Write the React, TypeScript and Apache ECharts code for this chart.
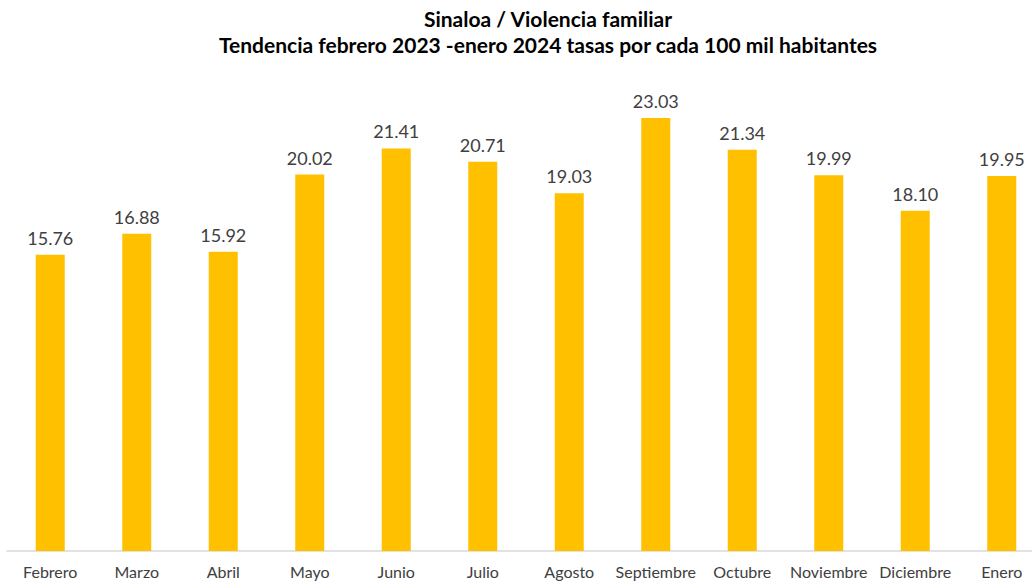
import React, { useEffect, useRef } from "react";
import * as echarts from "echarts";

const months = ["Febrero", "Marzo", "Abril", "Mayo", "Junio", "Julio", "Agosto", "Septiembre", "Octubre", "Noviembre", "Diciembre", "Enero"];
const rates = [15.76, 16.88, 15.92, 20.02, 21.41, 20.71, 19.03, 23.03, 21.34, 19.99, 18.1, 19.95];
const titleLines = ["Sinaloa / Violencia familiar", "Tendencia febrero 2023 -enero 2024 tasas por cada 100 mil habitantes"];

export default function App() {
  const ref = useRef<HTMLDivElement>(null);
  useEffect(() => {
    if (!ref.current) return;
    const chart = echarts.init(ref.current, null, { renderer: "svg" });
    const font = "Lato, 'Open Sans', sans-serif";
    chart.setOption({
      animation: false,
      backgroundColor: "#ffffff",
      title: {
        text: titleLines.join("\n"),
        left: 543,
        top: 0,
        textAlign: "center",
        textStyle: { fontFamily: font, fontSize: 21, fontWeight: "bold", color: "#000000", lineHeight: 26 },
      },
      grid: { left: 7, top: 81, width: 1038, height: 470, containLabel: false },
      xAxis: {
        type: "category",
        data: months,
        axisLine: { lineStyle: { color: "#D9D9D9", width: 1.5 } },
        axisTick: { show: false },
        axisLabel: { fontFamily: font, fontSize: 16, color: "#404040", margin: 12, interval: 0 },
      },
      yAxis: { type: "value", min: 0, max: 25, show: false, splitLine: { show: false } },
      series: [
        {
          type: "bar",
          data: rates,
          barWidth: 29,
          itemStyle: { color: "#FFC000" },
          label: {
            show: true,
            position: "top",
            distance: 8,
            fontFamily: font,
            fontSize: 18,
            color: "#404040",
            formatter: (p: any) => Number(p.value).toFixed(2),
          },
        },
      ],
    });
    return () => chart.dispose();
  }, []);
  return (
    <div style={{ position: "absolute", left: 0, top: 0, width: 1032, height: 583, overflow: "hidden", background: "#fff" }}>
      <div ref={ref} style={{ position: "absolute", left: 0, top: 0, width: 1060, height: 583 }} />
    </div>
  );
}
